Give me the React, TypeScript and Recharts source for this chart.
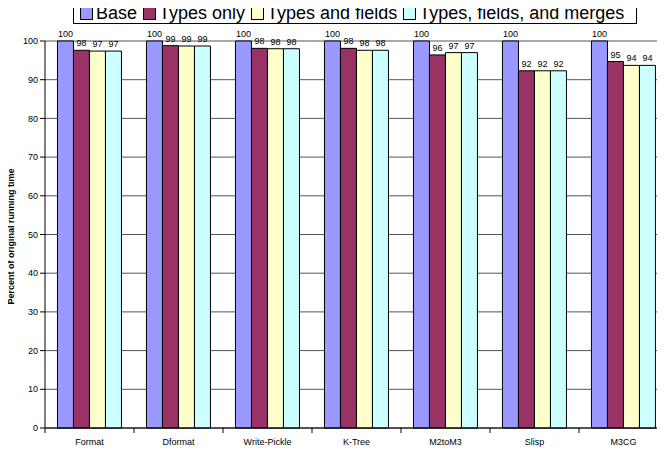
import { Bar, BarChart, CartesianGrid, LabelList, XAxis, YAxis } from 'recharts'

const benchmarks = ['Format', 'Dformat', 'Write-Pickle', 'K-Tree', 'M2toM3', 'Slisp', 'M3CG']
const base = [100, 100, 100, 100, 100, 100, 100]
const typesOnly = [97.6, 98.8, 98.1, 98.1, 96.4, 92.3, 94.7]
const typesFields = [97.4, 98.7, 98.0, 97.6, 97.0, 92.3, 93.7]
const typesFieldsMerges = [97.4, 98.7, 98.0, 97.6, 97.0, 92.3, 93.7]
const yTicks = [0, 10, 20, 30, 40, 50, 60, 70, 80, 90, 100]

const series = [
  { key: 'base', name: 'Base', color: '#9999ff' },
  { key: 'typesOnly', name: 'Types only', color: '#993366' },
  { key: 'typesFields', name: 'Types and fields', color: '#ffffcc' },
  { key: 'typesFieldsMerges', name: 'Types, fields, and merges', color: '#ccffff' },
]

const data = benchmarks.map((name, i) => ({
  name,
  base: base[i],
  typesOnly: typesOnly[i],
  typesFields: typesFields[i],
  typesFieldsMerges: typesFieldsMerges[i],
}))

const FONT = '"Liberation Sans", Arial, sans-serif'

function LegendBox() {
  return (
    <div
      style={{
        position: 'absolute',
        left: 73,
        top: -1,
        width: 564,
        height: 25,
        boxSizing: 'border-box',
        display: 'flex',
        alignItems: 'center',
        border: '1px solid #000',
        background: '#fff',
        padding: '3px 0 0 6px',
        fontFamily: FONT,
        fontSize: 18,
        lineHeight: '20px',
        whiteSpace: 'nowrap',
      }}
    >
      {series.map((s, i) => (
        <span key={s.key} style={{ display: 'inline-flex', alignItems: 'center', marginLeft: i ? 6 : 0 }}>
          <span
            style={{
              display: 'inline-block',
              width: 11,
              height: 11,
              background: s.color,
              border: '1px solid #000',
              marginRight: 3,
            }}
          />
          {s.name}
        </span>
      ))}
    </div>
  )
}

function CategoryTick(props: any) {
  const { x, y, payload } = props
  const half = payload?.offset ?? 44.5
  return (
    <g>
      <line x1={x - half} y1={y - 8} x2={x - half} y2={y - 3} stroke="#000" />
      <text x={x} y={y + 9} textAnchor="middle" fontSize={9} fontFamily={FONT} fill="#000">
        {payload.value}
      </text>
    </g>
  )
}

export default function App() {
  return (
    <div style={{ position: 'relative', margin: -8, width: 665, height: 455, overflow: 'hidden', background: '#fff' }}>
      <BarChart
        width={668}
        height={455}
        data={data}
        margin={{ top: 41, right: 0, bottom: 7, left: 0 }}
        barCategoryGap="14%"
        barGap={0}
      >
        <CartesianGrid vertical={false} stroke="#555" strokeWidth={1} />
        <XAxis
          dataKey="name"
          height={20}
          axisLine={{ stroke: '#000' }}
          tickLine={false}
          tick={<CategoryTick />}
          interval={0}
        />
        <YAxis
          width={45}
          domain={[0, 100]}
          ticks={yTicks}
          interval={0}
          axisLine={{ stroke: '#000' }}
          tickLine={{ stroke: '#000' }}
          tickSize={5}
          tick={{ fontSize: 9, fontFamily: FONT, fill: '#000' }}
          label={{
            value: 'Percent of original running time',
            angle: -90,
            position: 'insideLeft',
            dx: 6,
            dy: 70,
            style: { fontSize: 9, fontWeight: 'bold', fontFamily: FONT, fill: '#000' },
          }}
        />
        {series.map((s) => (
          <Bar
            key={s.key}
            dataKey={s.key}
            name={s.name}
            fill={s.color}
            stroke="#000"
            strokeWidth={1}
            isAnimationActive={false}
          >
            <LabelList
              dataKey={s.key}
              position="top"
              offset={4}
              formatter={(v: any) => Math.round(Number(v))}
              style={{ fontSize: 9, fontFamily: FONT, fill: '#000' }}
            />
          </Bar>
        ))}
      </BarChart>
      <LegendBox />
    </div>
  )
}
